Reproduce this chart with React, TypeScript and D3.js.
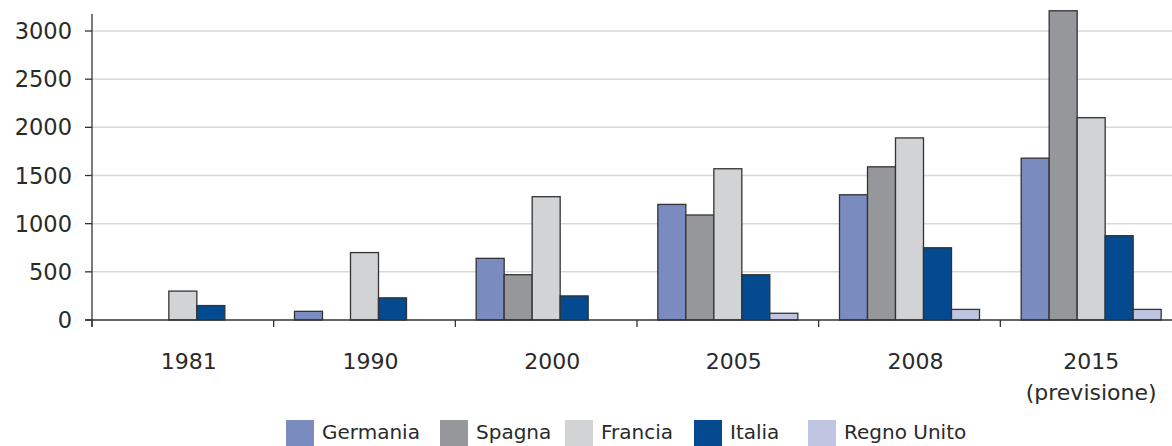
import * as d3 from "d3";

// Data
const categories = ["1981", "1990", "2000", "2005", "2008", "2015\n(previsione)"];
const series = ["Germania", "Spagna", "Francia", "Italia", "Regno Unito"];
const germania = [null, 90, 640, 1200, 1300, 1680];
const spagna = [null, null, 470, 1090, 1590, 3210];
const francia = [300, 700, 1280, 1570, 1890, 2100];
const italia = [150, 230, 250, 470, 750, 875];
const regnoUnito = [null, null, null, 70, 110, 110];
const yTicks = [0, 500, 1000, 1500, 2000, 2500, 3000];

const values: (number | null)[][] = [germania, spagna, francia, italia, regnoUnito];
const colors = ["#7a8bbf", "#96979b", "#d1d3d5", "#034a91", "#bfc5e1"];

const W = 1172;
const H = 446;
const font = "'DejaVu Sans', sans-serif";
const ink = "#2a2a2a";

export default function App() {
  const x = d3.scaleBand().domain(categories).range([92, 1182]).padding(0);
  const xs = d3.scaleBand().domain(series).range([0, x.bandwidth()]).paddingOuter(0.744).paddingInner(0);
  const y = d3.scaleLinear().domain([0, 3000]).range([320, 31]);

  const bars = categories.flatMap((c, i) =>
    series.map((s, j) => ({ c, s, v: values[j][i], color: colors[j] }))
  ).filter((d) => d.v != null);

  // legend swatch x positions
  const legendX = [286, 440, 565, 694, 808];

  return (
    <svg width={W} height={H} style={{ position: "absolute", left: 0, top: 0 }} fontFamily={font}>
      {/* gridlines */}
      {yTicks.filter((t) => t > 0).map((t) => (
        <line key={t} x1={92} x2={W} y1={y(t)} y2={y(t)} stroke="#d9d9d9" strokeWidth={1.5} />
      ))}
      {/* bars */}
      {bars.map((d) => (
        <rect
          key={d.c + d.s}
          x={x(d.c)! + xs(d.s)!}
          y={y(d.v as number)}
          width={xs.bandwidth()}
          height={y(0) - y(d.v as number)}
          fill={d.color}
          stroke="#333"
          strokeWidth={1.3}
        />
      ))}
      {/* axes */}
      <line x1={92} x2={92} y1={14} y2={327} stroke="#333" strokeWidth={1.3} />
      <line x1={85} x2={W} y1={320} y2={320} stroke="#333" strokeWidth={1.3} />
      {yTicks.map((t) => (
        <line key={"yt" + t} x1={85} x2={92} y1={y(t)} y2={y(t)} stroke="#333" strokeWidth={1.3} />
      ))}
      {categories.map((c) => (
        <line key={"t" + c} x1={x(c)!} x2={x(c)!} y1={320} y2={327} stroke="#333" strokeWidth={1.3} />
      ))}
      {yTicks.map((t) => (
        <text key={"y" + t} x={72} y={y(t)} dy="0.36em" textAnchor="end" fontSize={22.5} fill={ink}>
          {t}
        </text>
      ))}
      {categories.map((c) => {
        const lines = c.split("\n");
        // single-line labels sit slightly right of the band centre in the original
        const cx = x(c)! + x.bandwidth() / 2 + (lines.length === 1 ? 6 : 0);
        return (
          <text key={"x" + c} x={cx} y={369} textAnchor="middle" fontSize={22} fill={ink}>
            {lines.map((l, k) => (
              <tspan key={k} x={cx} dy={k === 0 ? 0 : 31}>
                {l}
              </tspan>
            ))}
          </text>
        );
      })}
      {/* legend */}
      {series.map((s, j) => (
        <g key={"l" + s}>
          <rect x={legendX[j]} y={420} width={28} height={26} fill={colors[j]} />
          <text x={legendX[j] + 36} y={439} fontSize={20} fill={ink}>
            {s}
          </text>
        </g>
      ))}
    </svg>
  );
}
